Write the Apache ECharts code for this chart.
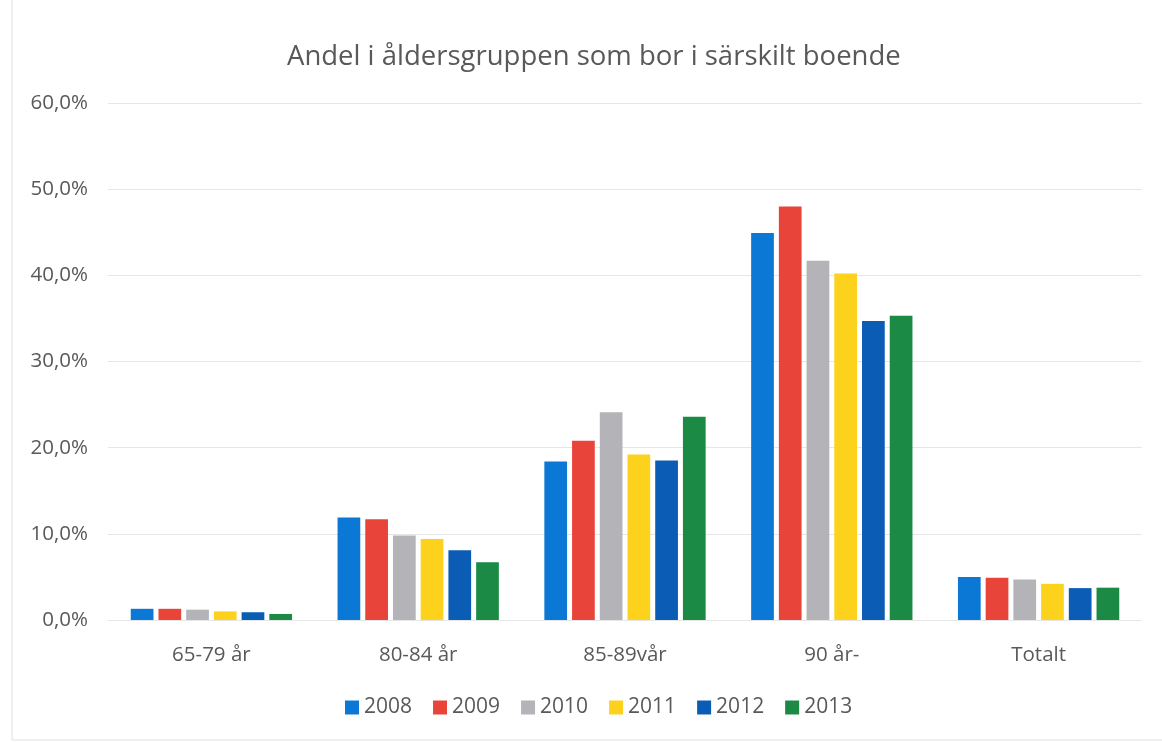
<!DOCTYPE html>
<html>
<head>
<meta charset="utf-8">
<script src="https://cdn.jsdelivr.net/npm/echarts@6/dist/echarts.min.js"></script>
<style>
  html, body { margin: 0; padding: 0; background: #fff; }
  #chart { width: 1162px; height: 742px; }
</style>
</head>
<body>
<div id="chart"></div>
<script>
const categories = ['65-79 år', '80-84 år', '85-89vår', '90 år-', 'Totalt']
const years = ['2008', '2009', '2010', '2011', '2012', '2013']

// values in percent
const v2008 = [1.3, 11.9, 18.4, 44.9, 5.0]
const v2009 = [1.3, 11.7, 20.8, 48.0, 4.9]
const v2010 = [1.2, 9.8, 24.1, 41.7, 4.7]
const v2011 = [1.0, 9.4, 19.2, 40.2, 4.2]
const v2012 = [0.9, 8.1, 18.5, 34.7, 3.7]
const v2013 = [0.7, 6.7, 23.6, 35.3, 3.75]

const colors = ['#0a78d4', '#e8443a', '#b4b4b8', '#fcd21c', '#0a5cb5', '#1a8a45']

const chart = echarts.init(document.getElementById('chart'))

const seriesData = [v2008, v2009, v2010, v2011, v2012, v2013]
const textColor = '#595959'
const font = 'Open Sans'

chart.setOption({
  animation: false,
  color: colors,
  title: {
    text: 'Andel i åldersgruppen som bor i särskilt boende',
    left: 282,
    top: 38,
    textStyle: { color: textColor, fontSize: 27.5, fontWeight: 'normal', fontFamily: font },
  },
  legend: {
    data: years,
    bottom: 19,
    left: 340,
    itemWidth: 14,
    itemHeight: 14,
    itemGap: 21,
    icon: 'rect',
    textStyle: { color: textColor, fontSize: 21, fontFamily: font },
  },
  grid: { left: 108, right: 20, top: 103, bottom: 122 },
  xAxis: {
    type: 'category',
    data: categories,
    axisLine: { show: false },
    axisTick: { show: false },
    axisLabel: { color: textColor, fontSize: 20.5, fontFamily: font, margin: 25 },
  },
  yAxis: {
    type: 'value',
    min: 0,
    max: 60,
    interval: 10,
    axisLine: { show: false },
    axisTick: { show: false },
    splitLine: { lineStyle: { color: '#e6e6e6', width: 1 } },
    axisLabel: {
      color: textColor,
      fontSize: 20.5,
      fontFamily: font,
      margin: 20,
      formatter: (v) => v.toFixed(1).replace('.', ',') + '%',
    },
  },
  series: years.map((y, i) => ({
    name: y,
    type: 'bar',
    data: seriesData[i],
    barGap: '22%',
    barCategoryGap: '22%',
    itemStyle: { color: colors[i] },
  })),
  graphic: [
    {
      type: 'rect',
      shape: { x: 12, y: -2, width: 1160, height: 742 },
      style: { fill: 'none', stroke: '#e0e0e0', lineWidth: 1 },
      silent: true,
    },
  ],
})
</script>
</body>
</html>
